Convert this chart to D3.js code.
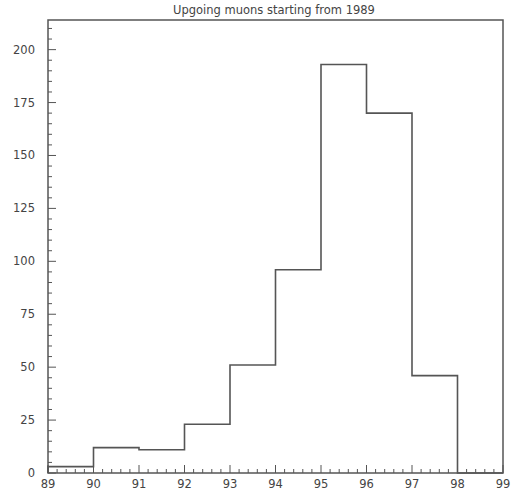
<!DOCTYPE html>
<html>
<head>
<meta charset="utf-8">
<script src="https://cdn.jsdelivr.net/npm/d3@7"></script>
<style>
  html, body { margin: 0; padding: 0; background: #fff; }
  svg { display: block; }
  text { font-family: "DejaVu Sans", sans-serif; fill: #444; }
</style>
</head>
<body>
<svg id="chart" width="512" height="491"></svg>
<script>
// Upgoing muon counts per year bin, starting 1989
const binEdges = [89, 90, 91, 92, 93, 94, 95, 96, 97, 98, 99];
const counts   = [3, 12, 11, 23, 51, 96, 193, 170, 46, 0];
const xTicks   = [89, 90, 91, 92, 93, 94, 95, 96, 97, 98, 99];
const yTicks   = [0, 25, 50, 75, 100, 125, 150, 175, 200];
const title    = "Upgoing muons starting from 1989";

const svg = d3.select("#chart");
const margin = { left: 48, right: 9, top: 20, bottom: 18 };
const W = 512, H = 491;

const x = d3.scaleLinear().domain([89, 99]).range([margin.left, W - margin.right]);
const y = d3.scaleLinear().domain([0, 214]).range([H - margin.bottom, margin.top]);

const ink = "#555";

// frame
svg.append("rect")
  .attr("x", x(89)).attr("y", y(214))
  .attr("width", x(99) - x(89)).attr("height", y(0) - y(214))
  .attr("fill", "none").attr("stroke", ink).attr("stroke-width", 1.5);

// x axis: major ticks at integers, minor every 0.2, pointing up
const xMinor = d3.range(89, 99.001, 0.2).map(v => +v.toFixed(1));
svg.append("g").selectAll("line").data(xMinor).join("line")
  .attr("x1", d => x(d)).attr("x2", d => x(d))
  .attr("y1", y(0)).attr("y2", d => y(0) - (Math.abs(d - Math.round(d)) < 1e-6 ? 8 : 4))
  .attr("stroke", ink).attr("stroke-width", 1);

svg.append("g").selectAll("text").data(xTicks).join("text")
  .attr("x", d => x(d)).attr("y", y(0) + 15)
  .attr("text-anchor", "middle").attr("font-size", 11.5)
  .text(d => d);

// y axis: major ticks every 25, minor every 5, pointing right
const yMinor = d3.range(0, 214, 5);
svg.append("g").selectAll("line").data(yMinor).join("line")
  .attr("x1", x(89)).attr("x2", d => x(89) + (d % 25 === 0 ? 8 : 4))
  .attr("y1", d => y(d)).attr("y2", d => y(d))
  .attr("stroke", ink).attr("stroke-width", 1);

svg.append("g").selectAll("text").data(yTicks).join("text")
  .attr("x", x(89) - 13).attr("y", d => y(d) + 4)
  .attr("text-anchor", "end").attr("font-size", 11.5)
  .text(d => d);

// histogram outline
const pts = [];
counts.forEach((c, i) => {
  pts.push([binEdges[i], c]);
  pts.push([binEdges[i + 1], c]);
});
const path = d3.line().x(d => x(d[0])).y(d => y(d[1]));
const steps = [[89, 0]].concat(pts);
svg.append("path")
  .attr("d", path(steps))
  .attr("fill", "none").attr("stroke", ink).attr("stroke-width", 1.6);

// title
svg.append("text")
  .attr("x", 274).attr("y", 14)
  .attr("text-anchor", "middle").attr("font-size", 11.5)
  .text(title);
</script>
</body>
</html>
